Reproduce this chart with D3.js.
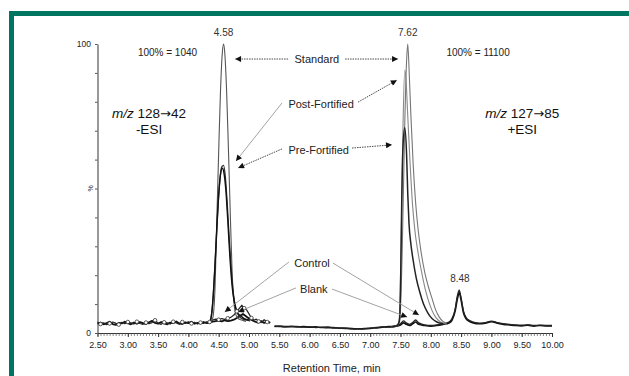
<!DOCTYPE html>
<html><head><meta charset="utf-8">
<script src="https://cdn.jsdelivr.net/npm/d3@7"></script>
<style>html,body{margin:0;padding:0;background:#fff}svg{display:block}</style>
</head><body>
<svg id="c" width="629" height="376"></svg>
<script>
// ---------- DATA (retention time in min, relative intensity %) ----------
const xTicks = [2.5,3.0,3.5,4.0,4.5,5.0,5.5,6.0,6.5,7.0,7.5,8.0,8.5,9.0,9.5,10.0];
const yTicks = [0,10,20,30,40,50,60,70,80,90,100];
const yTickLabels = {0:"0",100:"100"};

// left trace: m/z 128->42 (-ESI)
const standardL = [[4.30,3.6],[4.36,3.8],[4.40,5],[4.44,16],[4.47,40],[4.50,63],[4.53,84],[4.56,97],[4.58,100],[4.60,97],[4.63,84],[4.66,64],[4.69,42],[4.72,22],[4.75,11],[4.78,6.5],[4.82,5],[4.88,4.5],[4.95,4]];
const postL = [[4.30,3.6],[4.34,3.8],[4.37,5],[4.40,10],[4.43,20],[4.46,32],[4.49,44],[4.52,53],[4.55,57.5],[4.58,58],[4.61,54],[4.64,45],[4.67,34],[4.70,24],[4.73,16],[4.76,11],[4.79,8],[4.83,6],[4.88,5],[4.95,4.5],[5.02,4.2]];
const preL = [[4.30,3.5],[4.35,3.7],[4.38,6],[4.41,13],[4.44,24],[4.47,37],[4.50,48],[4.53,55],[4.56,57],[4.59,55],[4.62,49],[4.65,39],[4.68,28],[4.71,19],[4.74,13],[4.77,9.5],[4.81,7],[4.86,6],[4.92,5],[5.00,4.5]];
const blankL = [[2.50,3.2],[2.55,3.6],[2.60,3.0],[2.65,3.4],[2.70,3.9],[2.75,3.1],[2.80,2.8],[2.85,3.5],[2.90,3.3],[2.95,3.9],[3.00,3.4],[3.05,3.0],[3.10,3.6],[3.15,3.2],[3.20,3.8],[3.25,3.4],[3.30,3.1],[3.35,3.7],[3.40,4.2],[3.45,3.5],[3.50,3.2],[3.55,3.8],[3.60,3.3],[3.65,3.0],[3.70,3.6],[3.75,3.4],[3.80,4.0],[3.85,3.3],[3.90,3.1],[3.95,3.7],[4.00,3.4],[4.05,3.9],[4.10,3.2],[4.15,3.5],[4.20,3.3],[4.25,3.8],[4.30,3.4],[4.35,3.6],[4.40,3.9],[4.45,4.1],[4.50,4.3],[4.55,4.0],[4.60,4.4],[4.65,4.1],[4.70,4.3],[4.75,4.6],[4.80,5.2],[4.85,6.0],[4.90,6.6],[4.95,5.8],[5.00,5.0],[5.05,4.4],[5.10,3.9],[5.15,3.6],[5.20,4.1],[5.25,3.5],[5.30,3.9],[5.35,3.6]];
const controlL = [[2.50,3.8],[2.55,3.1],[2.60,3.5],[2.65,2.9],[2.70,3.3],[2.75,3.8],[2.80,3.4],[2.85,2.9],[2.90,3.7],[2.95,3.2],[3.00,3.8],[3.05,3.5],[3.10,3.1],[3.15,3.9],[3.20,3.3],[3.25,3.0],[3.30,3.6],[3.35,3.2],[3.40,3.6],[3.45,4.4],[3.50,3.4],[3.55,3.0],[3.60,3.7],[3.65,3.5],[3.70,3.1],[3.75,3.9],[3.80,3.5],[3.85,3.0],[3.90,3.8],[3.95,3.3],[4.00,3.9],[4.05,3.3],[4.10,3.7],[4.15,3.1],[4.20,3.6],[4.25,3.3],[4.30,3.9],[4.35,3.8],[4.40,4.5],[4.45,4.8],[4.50,4.6],[4.55,5.0],[4.60,4.7],[4.65,5.1],[4.70,5.4],[4.75,6.2],[4.80,7.5],[4.85,8.8],[4.88,9.6],[4.92,8.6],[4.96,8.0],[5.00,6.6],[5.04,5.2],[5.08,4.4],[5.12,4.8],[5.16,4.0],[5.20,3.6],[5.25,4.6],[5.30,3.8],[5.35,3.5]];

// right trace: m/z 127->85 (+ESI)
const standardR = [[7.35,2.1],[7.45,2.5],[7.49,5],[7.53,30],[7.57,72],[7.60,94],[7.62,100],[7.64,92],[7.67,76],[7.71,58],[7.75,45],[7.79,36],[7.84,28],[7.90,21],[7.96,16],[8.02,12],[8.08,8],[8.14,5.5],[8.20,4],[8.26,3.5]];
const postR = [[7.35,2.1],[7.44,2.5],[7.48,5],[7.51,30],[7.54,70],[7.57,91],[7.59,88],[7.62,75],[7.66,58],[7.70,44],[7.74,35],[7.78,29],[7.84,22],[7.91,15],[7.98,10],[8.05,6.5],[8.12,4.5],[8.20,3.5],[8.26,3.4]];
const preR = [[7.35,2.1],[7.44,2.5],[7.48,4],[7.50,15],[7.52,45],[7.54,64],[7.57,71],[7.60,62],[7.62,48],[7.64,38],[7.67,31],[7.71,25],[7.76,19],[7.82,14],[7.88,10],[7.95,7],[8.02,5],[8.10,3.8],[8.20,3.2]];
const blankR = [[5.42,2.4],[5.5,2.3],[5.6,2.2],[5.7,2.3],[5.8,2.1],[5.9,2.2],[6.0,2.0],[6.1,2.1],[6.2,1.9],[6.3,2.0],[6.4,1.8],[6.5,1.7],[6.6,1.6],[6.7,1.5],[6.8,1.4],[6.9,1.5],[7.0,1.6],[7.1,1.8],[7.2,2.0],[7.3,2.2],[7.4,2.3],[7.5,2.8],[7.55,3.5],[7.6,3.0],[7.65,2.6],[7.7,3.2],[7.75,3.8],[7.8,3.0],[7.9,2.6],[8.0,2.4],[8.1,2.6],[8.2,3.0],[8.3,3.5],[8.35,4.5],[8.40,7.5],[8.44,12],[8.47,14],[8.50,11.5],[8.54,7],[8.58,5],[8.64,4],[8.70,3.5],[8.8,3.2],[8.9,3.4],[9.0,3.9],[9.1,3.4],[9.2,3.0],[9.3,2.8],[9.4,2.6],[9.5,2.5],[9.6,2.7],[9.7,2.4],[9.8,2.6],[9.9,2.5],[10.0,2.5]];
const controlR = [[5.42,2.2],[5.5,2.4],[5.6,2.1],[5.7,2.2],[5.8,2.3],[5.9,2.0],[6.0,2.1],[6.1,1.9],[6.2,2.0],[6.3,1.8],[6.4,1.9],[6.5,1.6],[6.6,1.7],[6.7,1.4],[6.8,1.5],[6.9,1.4],[7.0,1.7],[7.1,1.9],[7.2,2.1],[7.3,2.0],[7.4,2.4],[7.5,3.2],[7.55,4.2],[7.6,3.4],[7.65,3.0],[7.7,3.6],[7.75,4.5],[7.8,3.5],[7.9,2.8],[8.0,2.6],[8.1,2.8],[8.2,3.2],[8.3,3.8],[8.35,5],[8.40,8],[8.44,13],[8.47,14.8],[8.50,12],[8.54,7.5],[8.58,5.4],[8.64,4.3],[8.70,3.8],[8.8,3.4],[8.9,3.6],[9.0,4.1],[9.1,3.6],[9.2,3.2],[9.3,3.0],[9.4,2.8],[9.5,2.7],[9.6,2.8],[9.7,2.6],[9.8,2.7],[9.9,2.6],[10.0,2.6]];

// peak labels [t, %, text]
const peakLabels = [[4.58,100,"4.58"],[7.62,100,"7.62"],[8.48,14.8,"8.48"]];
// free text annotations [t, %, text, fontSize]
const notes = [[3.655,96,"100% = 1040",10],[8.78,96,"100% = 11100",10],[6.12,93.4,"Standard",11],[6.19,77.9,"Post-Fortified",11],[6.15,61.9,"Pre-Fortified",11],[6.04,22.8,"Control",11],[6.07,13.8,"Blank",11]];
// arrows [t0,%0,t1,%1,style]
const arrows = [[5.645,94.8,4.77,94.8,"dot"],[6.585,94.8,7.46,94.8,"dot"],[5.545,79.6,4.785,59.5,"gray"],[6.80,79.9,7.44,87.5,"dot"],[5.545,63.7,4.82,57.1,"dot"],[6.70,64.0,7.36,65.1,"dot"],[5.66,24.6,4.60,7.3,"gray"],[6.385,24.2,7.805,6.2,"gray"],[5.775,15.6,4.82,7.3,"gray"],[6.37,15.2,7.61,5.5,"gray"]];
const transitions = [[3.35,"128","42","-ESI"],[9.51,"127","85","+ESI"]];

// ---------- DRAW ----------
const svg = d3.select("#c");
const teal = "#007560";
svg.append("rect").attr("x",9).attr("y",11).attr("width",620).attr("height",5).attr("fill",teal);
svg.append("rect").attr("x",9).attr("y",11).attr("width",5).attr("height",365).attr("fill",teal);

const x = d3.scaleLinear().domain([2.5,10]).range([97.5,552]);
const y = d3.scaleLinear().domain([0,100]).range([333,44]);
const font = "Liberation Sans, Arial, sans-serif";

const defs = svg.append("defs");
defs.append("marker").attr("id","ah").attr("viewBox","0 0 10 10").attr("refX",10).attr("refY",5)
  .attr("markerWidth",7).attr("markerHeight",6).attr("markerUnits","userSpaceOnUse").attr("orient","auto")
  .append("path").attr("d","M0,0L10,5L0,10Z").attr("fill","#111");

// axes
const minor = d3.range(0,151).map(i => +(2.5 + i*0.05).toFixed(2));
const gxm = svg.append("g").attr("transform",`translate(0,${y(0)})`)
  .call(d3.axisBottom(x).tickValues(minor).tickSize(3).tickSizeOuter(0).tickFormat(""));
gxm.select(".domain").attr("stroke","#333");
gxm.selectAll(".tick line").attr("stroke","#555").attr("stroke-width",0.7);
const gx = svg.append("g").attr("transform",`translate(0,${y(0)})`)
  .call(d3.axisBottom(x).tickValues(xTicks).tickSize(4).tickSizeOuter(0).tickFormat(d3.format(".2f")));
gx.select(".domain").remove();
gx.selectAll(".tick line").attr("stroke","#333");
gx.selectAll("text").attr("font-family",font).attr("font-size",9).attr("fill","#222").attr("dy","0.9em");

const gy = svg.append("g").attr("transform",`translate(${x(2.5)},0)`)
  .call(d3.axisLeft(y).tickValues(yTicks).tickSize(2.5).tickSizeOuter(0).tickFormat(d => yTickLabels[d] || ""));
gy.select(".domain").attr("stroke","#555").attr("stroke-width",1.2);
gy.selectAll(".tick line").attr("stroke","#555");
gy.selectAll("text").attr("font-family",font).attr("font-size",8.5).attr("fill","#222").attr("dx","-1");

svg.append("text").attr("transform",`translate(${x(2.5)-5},${y(50)}) rotate(-90)`)
  .attr("text-anchor","middle").attr("font-family",font).attr("font-size",7).attr("fill","#333").text("%");
svg.append("text").attr("x",(x(2.5)+x(10))/2+7).attr("y",372).attr("text-anchor","middle")
  .attr("font-family",font).attr("font-size",11).attr("fill","#222").text("Retention Time, min");

// traces
const lineLin = d3.line().x(d=>x(d[0])).y(d=>y(d[1]));
const lineSm = d3.line().x(d=>x(d[0])).y(d=>y(d[1])).curve(d3.curveMonotoneX);
const traces = [
  [blankL,lineLin,"#111",1.8],[controlL,lineLin,"#222",1.2],
  [blankR,lineSm,"#111",1.7],[controlR,lineSm,"#222",1.3],
  [standardL,lineSm,"#555",1.1],[postL,lineSm,"#333",1.3],[preL,lineSm,"#111",1.4],
  [standardR,lineSm,"#777",1.1],[postR,lineSm,"#888",1.1],[preR,lineSm,"#222",1.5]
];
traces.forEach(([d,ln,c,w]) => svg.append("path").datum(d).attr("d",ln).attr("fill","none")
  .attr("stroke",c).attr("stroke-width",w).attr("stroke-linejoin","round"));
svg.append("g").selectAll("circle").data(controlL.filter((d,i)=>i%3===1)).join("circle")
  .attr("cx",d=>x(d[0])).attr("cy",d=>y(d[1])).attr("r",1.8)
  .attr("fill","#fff").attr("stroke","#333").attr("stroke-width",0.8);

// annotations
svg.append("g").selectAll("text").data(peakLabels).join("text")
  .attr("x",d=>x(d[0])).attr("y",d=>y(d[1])-8).attr("text-anchor","middle")
  .attr("font-family",font).attr("font-size",10).attr("fill","#333").text(d=>d[2]);
svg.append("g").selectAll("text").data(notes).join("text")
  .attr("x",d=>x(d[0])).attr("y",d=>y(d[1])).attr("text-anchor","middle")
  .attr("font-family",font).attr("font-size",d=>d[3]).attr("fill","#222").text(d=>d[2]);
svg.append("g").selectAll("line").data(arrows).join("line")
  .attr("x1",d=>x(d[0])).attr("y1",d=>y(d[1])).attr("x2",d=>x(d[2])).attr("y2",d=>y(d[3]))
  .attr("stroke",d=>d[4]==="dot"?"#333":"#999").attr("stroke-width",0.9)
  .attr("stroke-dasharray",d=>d[4]==="dot"?"1.5,1":null).attr("marker-end","url(#ah)");

transitions.forEach(([t,a,b,mode]) => {
  const tx = svg.append("text").attr("x",x(t)).attr("y",y(74.4)).attr("text-anchor","middle")
    .attr("font-family",font).attr("font-size",13.5).attr("fill","#111");
  tx.append("tspan").attr("font-style","italic").text("m/z");
  tx.append("tspan").text(` ${a}`);
  tx.append("tspan").attr("font-family","DejaVu Sans").attr("font-size",13).text("\u2192");
  tx.append("tspan").text(b);
  svg.append("text").attr("x",x(t)).attr("y",y(68.9)).attr("text-anchor","middle")
    .attr("font-family",font).attr("font-size",13.5).attr("fill","#111").text(mode);
});
</script>
</body></html>
